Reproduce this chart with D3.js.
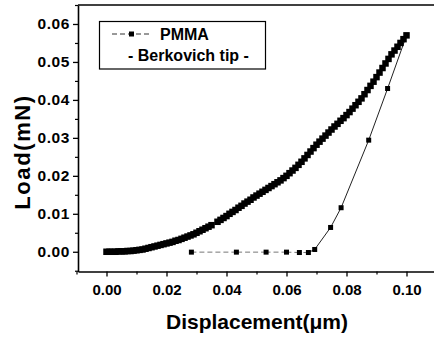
<!DOCTYPE html>
<html>
<head>
<meta charset="utf-8">
<script src="https://cdn.jsdelivr.net/npm/d3@7"></script>
<style>
  html, body { margin: 0; padding: 0; background: #fff; }
  svg { display: block; font-family: "Liberation Sans", Arial, sans-serif; }
  .tick text { font-weight: bold; fill: #000; }
</style>
</head>
<body>
<svg id="chart" width="434" height="338"></svg>
<script>
// Nanoindentation of PMMA with a Berkovich tip: loading and unloading branches.
const loadDisp = [
  0.000, 0.001, 0.002, 0.003, 0.004, 0.005, 0.006, 0.007, 0.008, 0.009,
  0.010, 0.011, 0.012, 0.013, 0.014, 0.015, 0.016, 0.017, 0.018, 0.019,
  0.020, 0.021, 0.022, 0.023, 0.024, 0.025, 0.026, 0.027, 0.028, 0.029,
  0.030, 0.031, 0.032, 0.033, 0.034, 0.035, 0.037, 0.038, 0.039,
  0.040, 0.041, 0.042, 0.043, 0.044, 0.045, 0.046, 0.047, 0.048, 0.049,
  0.050, 0.051, 0.052, 0.053, 0.054, 0.055, 0.056, 0.057, 0.058, 0.059,
  0.060, 0.061, 0.062, 0.063, 0.064, 0.065, 0.066, 0.067, 0.068, 0.069,
  0.070, 0.071, 0.072, 0.073, 0.074, 0.075, 0.076, 0.077, 0.078, 0.079,
  0.080, 0.081, 0.082, 0.083, 0.084, 0.085, 0.086, 0.087, 0.088, 0.089,
  0.090, 0.091, 0.092, 0.093, 0.094, 0.095, 0.096, 0.097, 0.098, 0.099,
  0.100
];
const loadForce = [
  0.0000, 0.0000, 0.0000, 0.0000, 0.0001, 0.0001, 0.0001, 0.0002, 0.0002, 0.0003,
  0.0004, 0.0005, 0.0006, 0.0008, 0.0010, 0.0012, 0.0014, 0.0016, 0.0018, 0.0020,
  0.0022, 0.0024, 0.0026, 0.0029, 0.0031, 0.0034, 0.0037, 0.0040, 0.0043, 0.0046,
  0.0050, 0.0054, 0.0058, 0.0062, 0.0066, 0.0070, 0.0079, 0.0084, 0.0089,
  0.0094, 0.0100, 0.0105, 0.0110, 0.0116, 0.0121, 0.0127, 0.0132, 0.0137, 0.0143,
  0.0148, 0.0153, 0.0158, 0.0163, 0.0168, 0.0173, 0.0178, 0.0183, 0.0188, 0.0194,
  0.0200, 0.0207, 0.0214, 0.0221, 0.0229, 0.0237, 0.0246, 0.0255, 0.0264, 0.0273,
  0.0282, 0.0290, 0.0298, 0.0306, 0.0314, 0.0322, 0.0330, 0.0337, 0.0345, 0.0352,
  0.0360, 0.0368, 0.0377, 0.0386, 0.0395, 0.0404, 0.0415, 0.0426, 0.0437, 0.0448,
  0.0460, 0.0472, 0.0484, 0.0496, 0.0508, 0.0520, 0.0530, 0.0540, 0.0550, 0.0560,
  0.0570
];
const unloadDisp  = [0.1000, 0.0937, 0.0874, 0.0782, 0.0747, 0.0694, 0.0673, 0.0643, 0.0600, 0.0532, 0.0433, 0.0283];
const unloadForce = [0.0570, 0.0430, 0.0294, 0.0116, 0.0064, 0.0006, -0.0002, -0.0002, -0.0001, -0.0001, -0.0001, -0.0001];

const xTicks = [0.00, 0.02, 0.04, 0.06, 0.08, 0.10];
const xMinor = [-0.01, 0.01, 0.03, 0.05, 0.07, 0.09, 0.11];
const yTicks = [0.00, 0.01, 0.02, 0.03, 0.04, 0.05, 0.06];
const yMinor = [-0.005, 0.005, 0.015, 0.025, 0.035, 0.045, 0.055, 0.065];

const seriesName = "PMMA";
const seriesNote = "- Berkovich tip -";
const xTitle = "Displacement(\u03bcm)";
const yTitle = "Load(mN)";

const svg = d3.select("#chart");
const plotLeft = 78, plotRight = 438, plotTop = 5, plotBottom = 271.5;

const x = d3.scaleLinear().domain([-0.0095, 0.1105]).range([plotLeft, plotRight]);
const y = d3.scaleLinear().domain([-0.0052, 0.0650]).range([plotBottom, plotTop]);

// Frame top edge (the right edge falls outside the view)
svg.append("line").attr("x1", plotLeft).attr("x2", 434).attr("y1", plotTop).attr("y2", plotTop)
  .attr("stroke", "#000").attr("stroke-width", 1.3);

// Minor ticks
svg.append("g").attr("transform", `translate(0,${plotBottom})`)
  .call(d3.axisBottom(x).tickValues(xMinor).tickSize(3).tickFormat(""))
  .call(g => g.select(".domain").remove())
  .selectAll("line").attr("stroke-width", 1.2);
svg.append("g").attr("transform", `translate(${plotLeft},0)`)
  .call(d3.axisLeft(y).tickValues(yMinor).tickSize(3).tickFormat(""))
  .call(g => g.select(".domain").remove())
  .selectAll("line").attr("stroke-width", 1.2);

// Major axes
const xAxis = svg.append("g").attr("transform", `translate(0,${plotBottom})`)
  .call(d3.axisBottom(x).tickValues(xTicks).tickSize(5).tickPadding(8).tickSizeOuter(0)
    .tickFormat(d3.format(".2f")));
xAxis.select(".domain").attr("stroke-width", 1.6);
xAxis.selectAll(".tick line").attr("stroke-width", 1.3);
xAxis.selectAll("text").style("font-size", "15px");

const yAxis = svg.append("g").attr("transform", `translate(${plotLeft},0)`)
  .call(d3.axisLeft(y).tickValues(yTicks).tickSize(5).tickPadding(3).tickSizeOuter(0)
    .tickFormat(d3.format(".2f")));
yAxis.select(".domain").attr("stroke-width", 1.6);
yAxis.selectAll(".tick line").attr("stroke-width", 1.3);
yAxis.selectAll("text").style("font-size", "15.5px").attr("letter-spacing", "0.6px");

// Axis titles
svg.append("text").attr("x", 257).attr("y", 328.5).attr("text-anchor", "middle")
  .style("font-size", "21px").style("font-weight", "bold").text(xTitle);
svg.append("text").attr("transform", "translate(30,152) rotate(-90)").attr("text-anchor", "middle")
  .style("font-size", "22px").style("font-weight", "bold").attr("letter-spacing", "1.6px").text(yTitle);

const plot = svg.append("g");

// Unloading connector: solid while load is carried, dashed along the zero baseline
const upts = unloadDisp.map((d, i) => [d, unloadForce[i]]);
for (let i = 0; i < upts.length - 1; i++) {
  const a = upts[i], b = upts[i + 1];
  const flat = Math.abs(a[1]) < 0.0005 && Math.abs(b[1]) < 0.0005;
  plot.append("line")
    .attr("x1", x(a[0])).attr("y1", y(a[1]))
    .attr("x2", x(b[0])).attr("y2", y(b[1]))
    .attr("stroke", flat ? "#777" : "#222")
    .attr("stroke-width", 1)
    .attr("stroke-dasharray", flat ? "5,3" : null);
}

// Loading branch: densely spaced square markers
const ls = 6.5;
plot.selectAll("rect.load").data(loadDisp.map((d, i) => [d, loadForce[i]]))
  .join("rect").attr("class", "load")
  .attr("x", d => x(d[0]) - ls / 2).attr("y", d => y(d[1]) - ls / 2)
  .attr("width", ls).attr("height", ls).attr("fill", "#000");

// Unloading branch markers
const us = 5;
plot.selectAll("rect.unload").data(upts)
  .join("rect").attr("class", "unload")
  .attr("x", d => x(d[0]) - us / 2).attr("y", d => y(d[1]) - us / 2)
  .attr("width", us).attr("height", us).attr("fill", "#000");

// Legend
const lg = svg.append("g");
lg.append("rect").attr("x", 99.5).attr("y", 21.5).attr("width", 166).attr("height", 47.5)
  .attr("fill", "#fff").attr("stroke", "#000").attr("stroke-width", 1.2);
lg.append("line").attr("x1", 112).attr("x2", 151).attr("y1", 34).attr("y2", 34)
  .attr("stroke", "#333").attr("stroke-width", 1).attr("stroke-dasharray", "5,3");
lg.append("rect").attr("x", 131.5 - us / 2).attr("y", 34 - us / 2).attr("width", us).attr("height", us).attr("fill", "#000");
lg.append("text").attr("x", 160).attr("y", 40).style("font-size", "16px").style("font-weight", "bold").text(seriesName);
lg.append("text").attr("x", 128).attr("y", 60.5).style("font-size", "16px").style("font-weight", "bold").text(seriesNote);
</script>
</body>
</html>
